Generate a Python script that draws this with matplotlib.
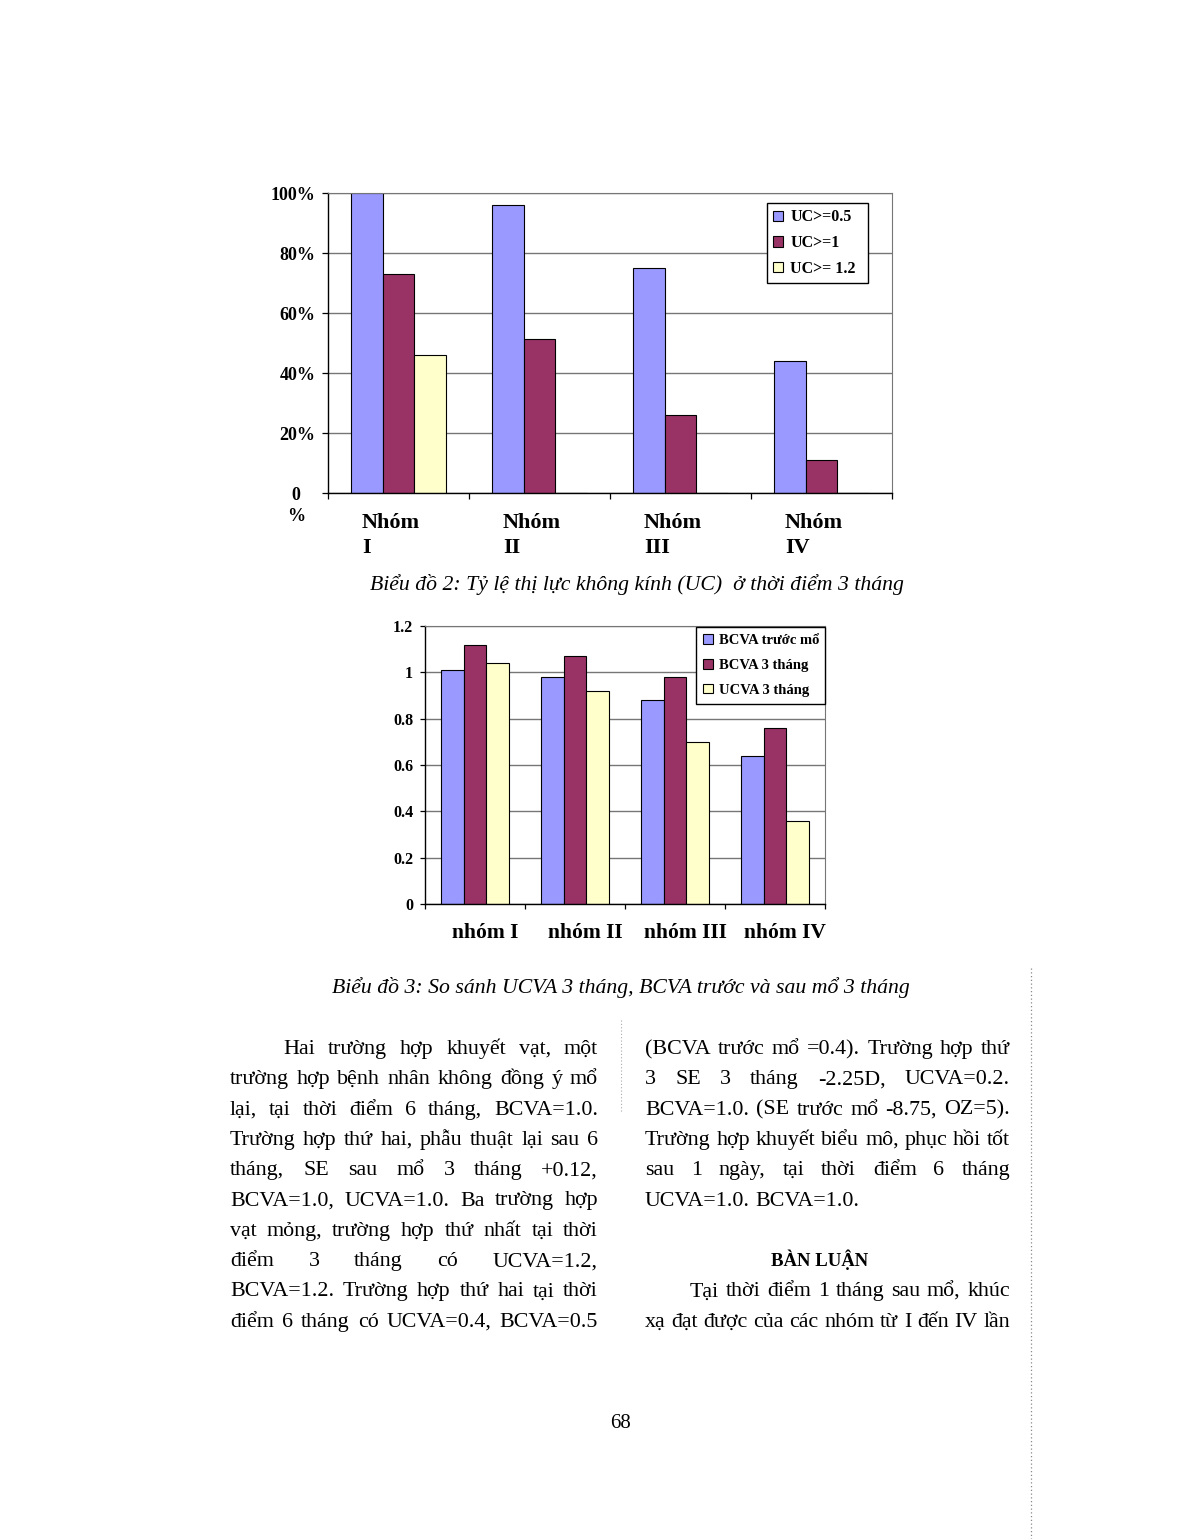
import numpy as np
import matplotlib
matplotlib.use("Agg")
import matplotlib.pyplot as plt
from matplotlib.lines import Line2D

plt.rcParams['font.family'] = ['Liberation Serif', 'DejaVu Serif']

## data
groups1 = ['Nhóm\nI', 'Nhóm\nII', 'Nhóm\nIII', 'Nhóm\nIV']
series1 = ['UC>=0.5', 'UC>=1', 'UC>= 1.2']
uc05 = [100, 96, 75, 44]
uc1 = [73, 51.5, 26, 11]
uc12 = [46, 0, 0, 0]
yticks1 = ['', '20%', '40%', '60%', '80%', '100%']
zero_label = '0\n%'

groups2 = ['nhóm I', 'nhóm II', 'nhóm III', 'nhóm IV']
series2 = ['BCVA trước mổ', 'BCVA 3 tháng', 'UCVA 3 tháng']
bcva_truoc = [1.01, 0.98, 0.88, 0.64]
bcva_3 = [1.12, 1.07, 0.98, 0.76]
ucva_3 = [1.04, 0.92, 0.70, 0.36]

cap1 = 'Biểu đồ 2: Tỷ lệ thị lực không kính (UC)  ở thời điểm 3 tháng'
cap2 = 'Biểu đồ 3: So sánh UCVA 3 tháng, BCVA trước và sau mổ 3 tháng'

left_col = ['Hai trường hợp khuyết vạt, một',
            'trường hợp bệnh nhân không đồng ý mổ',
            'lại, tại thời điểm 6 tháng, BCVA=1.0.',
            'Trường hợp thứ hai, phẫu thuật lại sau 6',
            'tháng, SE sau mổ 3 tháng +0.12,',
            'BCVA=1.0, UCVA=1.0. Ba trường hợp',
            'vạt mỏng, trường hợp thứ nhất tại thời',
            'điểm 3 tháng có UCVA=1.2,',
            'BCVA=1.2. Trường hợp thứ hai tại thời',
            'điểm 6 tháng có UCVA=0.4, BCVA=0.5']
right_col1 = ['(BCVA trước mổ =0.4). Trường hợp thứ',
              '3 SE 3 tháng -2.25D, UCVA=0.2.',
              'BCVA=1.0. (SE trước mổ -8.75, OZ=5).',
              'Trường hợp khuyết biểu mô, phục hồi tốt',
              'sau 1 ngày, tại thời điểm 6 tháng',
              'UCVA=1.0. BCVA=1.0.']
heading = 'BÀN LUẬN'
right_col2 = ['Tại thời điểm 1 tháng sau mổ, khúc',
              'xạ đạt được của các nhóm từ I đến IV lần']
page_no = '68'

W, H = 1189, 1539
fig = plt.figure(figsize=(W / 100, H / 100), dpi=100)
fig.patch.set_facecolor('white')

colors = ['#9999FF', '#993366', '#FFFFCC']
grid_c = '#767676'


def px_axes(x0, y0, x1, y1):
    return fig.add_axes([x0 / W, 1 - y1 / H, (x1 - x0) / W, (y1 - y0) / H])


def style_axes(ax, ymax, ticklen):
    ax.set_xlim(-0.5, 3.5)
    ax.set_ylim(0, ymax)
    ax.spines['top'].set_color(grid_c)
    ax.spines['right'].set_color(grid_c)
    ax.spines['left'].set_linewidth(1.0)
    ax.spines['bottom'].set_linewidth(1.0)
    ax.yaxis.grid(True, color=grid_c, linewidth=1.0)
    ax.set_axisbelow(True)
    ax.set_xticks([-0.5, 0.5, 1.5, 2.5, 3.5])
    ax.set_xticklabels([])
    ax.tick_params(axis='x', direction='out', length=ticklen, width=0.9)
    ax.tick_params(axis='y', direction='out', length=ticklen, width=0.9, pad=5)


bw = 0.224
x = np.arange(4)

## chart 1
ax1 = px_axes(328, 193, 892, 493)
for k, (vals, lab) in enumerate(zip([uc05, uc1, uc12], series1)):
    ax1.bar(x + (k - 1) * bw, vals, bw, color=colors[k], edgecolor='black',
            linewidth=0.8, label=lab)
style_axes(ax1, 100, 4)
ax1.set_yticks([0, 20, 40, 60, 80, 100])
ax1.set_yticklabels(yticks1, fontsize=13, fontweight='bold')
ax1.annotate(zero_label, xy=(-0.057, 0), xycoords=ax1.get_yaxis_transform(),
             xytext=(0, 4.5), textcoords='offset points', fontsize=13,
             fontweight='bold', ha='center', va='top', multialignment='center',
             linespacing=1.3, annotation_clip=False)
tr1 = ax1.get_xaxis_transform()
for i, g in enumerate(groups1):
    ax1.text(i - 0.26, -0.068, g, transform=tr1, fontsize=16, fontweight='bold',
             ha='left', va='top', linespacing=1.3)
leg1 = ax1.legend(loc='upper left', bbox_to_anchor=(767 / W, 1 - 283 / H, 101 / W, 80 / H),
                  bbox_transform=fig.transFigure, mode='expand', borderaxespad=0,
                  prop={'weight': 'bold', 'size': 11.5}, frameon=True, fancybox=False,
                  edgecolor='black', framealpha=1, handlelength=0.62, handleheight=0.62,
                  handletextpad=0.45, labelspacing=0.6, borderpad=0.4)
leg1.get_frame().set_linewidth(1.0)

fig.text(637 / W, 1 - 585 / H, cap1, fontsize=15.7, style='italic', ha='center', va='center')

## chart 2
ax2 = px_axes(425, 626, 825, 904)
for k, (vals, lab) in enumerate(zip([bcva_truoc, bcva_3, ucva_3], series2)):
    ax2.bar(x + (k - 1) * bw, vals, bw, color=colors[k], edgecolor='black',
            linewidth=0.8, label=lab)
style_axes(ax2, 1.2, 3.5)
ax2.set_yticks([0, 0.2, 0.4, 0.6, 0.8, 1.0, 1.2])
ax2.set_yticklabels(['0', '0.2', '0.4', '0.6', '0.8', '1', '1.2'], fontsize=11.5,
                    fontweight='bold')
tr2 = ax2.get_xaxis_transform()
for i, g in enumerate(groups2):
    ax2.text(i + 0.1, -0.104, g, transform=tr2, fontsize=15.5, fontweight='bold',
             ha='center', va='center')
leg2 = ax2.legend(loc='upper left', bbox_to_anchor=(696 / W, 1 - 703 / H, 129 / W, 76 / H),
                  bbox_transform=fig.transFigure, mode='expand', borderaxespad=0,
                  prop={'weight': 'bold', 'size': 10.5}, frameon=True, fancybox=False,
                  edgecolor='black', framealpha=1, handlelength=0.65, handleheight=0.65,
                  handletextpad=0.4, labelspacing=0.8, borderpad=0.5)
leg2.get_frame().set_linewidth(1.0)

fig.text(621 / W, 1 - 988 / H, cap2, fontsize=15.7, style='italic', ha='center', va='center')

## body text, justified
renderer = fig.canvas.get_renderer()
body_size = 15.8


def text_w(s, **kw):
    t = fig.text(0, 0, s, fontsize=body_size, **kw)
    w = t.get_window_extent(renderer).width
    t.remove()
    return w


space_w = text_w('a a') - text_w('aa')


def put_line(line, x0, x1, yb, justify=True):
    words = line.split()
    ts = [fig.text(0, 1 - yb / H, w, fontsize=body_size, va='baseline', ha='left')
          for w in words]
    ws = [t.get_window_extent(renderer).width for t in ts]
    if justify and len(words) > 1:
        gap = (x1 - x0 - sum(ws)) / (len(words) - 1)
    else:
        gap = space_w
    xx = x0
    for t, w in zip(ts, ws):
        t.set_x(xx / W)
        xx += w + gap


lh = 30.3
b0 = 1054
for i, line in enumerate(left_col):
    x0 = 283 if i == 0 else 230
    put_line(line, x0, 598, b0 + i * lh)
for i, line in enumerate(right_col1):
    put_line(line, 645, 1010, b0 + i * lh, justify=(i < len(right_col1) - 1))
fig.text(820 / W, 1 - (b0 + 7 * lh) / H, heading, fontsize=13.5, fontweight='bold',
         ha='center', va='baseline')
for i, line in enumerate(right_col2):
    x0 = 690 if i == 0 else 645
    put_line(line, x0, 1010, b0 + (8 + i) * lh)

fig.text(621 / W, 1 - 1424 / H, page_no, fontsize=15, ha='center', va='center')

## dotted separators
fig.add_artist(Line2D([621 / W, 621 / W], [1 - 1020 / H, 1 - 1112 / H], color='#aaaaaa',
                      linewidth=0.8, linestyle=(0, (1, 2))))
fig.add_artist(Line2D([1031 / W, 1031 / W], [1 - 968 / H, 0], color='#888888',
                      linewidth=0.9, linestyle=(0, (1, 2))))

fig.savefig('out.png', dpi=100, facecolor='white')
